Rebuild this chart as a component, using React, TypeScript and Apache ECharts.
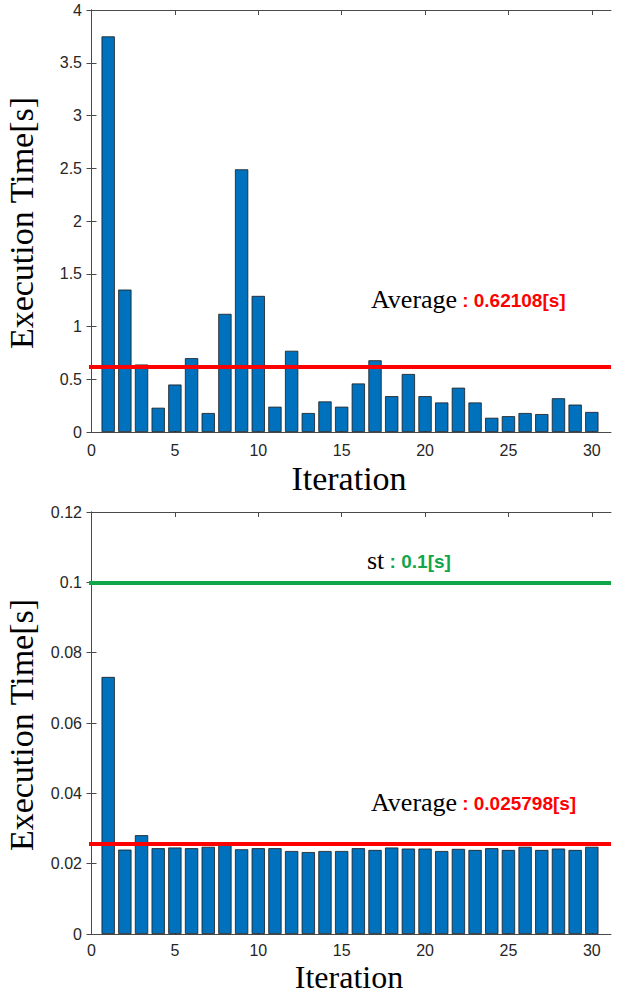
import React, { useEffect, useRef } from "react";
import * as echarts from "echarts";

const iterations = [1, 2, 3, 4, 5, 6, 7, 8, 9, 10, 11, 12, 13, 14, 15, 16, 17, 18, 19, 20, 21, 22, 23, 24, 25, 26, 27, 28, 29, 30];
const topTimes = [3.75, 1.35, 0.64, 0.23, 0.45, 0.70, 0.18, 1.12, 2.49, 1.29, 0.24, 0.77, 0.18, 0.29, 0.24, 0.46, 0.68, 0.34, 0.55, 0.34, 0.28, 0.42, 0.28, 0.135, 0.15, 0.18, 0.17, 0.32, 0.26, 0.19];
const bottomTimes = [0.0731, 0.0240, 0.0281, 0.0244, 0.0246, 0.0244, 0.0248, 0.0258, 0.0241, 0.0244, 0.0244, 0.0236, 0.0233, 0.0236, 0.0236, 0.0244, 0.0239, 0.0246, 0.0243, 0.0243, 0.0236, 0.0242, 0.0239, 0.0244, 0.0239, 0.0248, 0.0239, 0.0243, 0.0239, 0.0248];
const topAverage = 0.62108;
const bottomAverage = 0.025798;
const sampleTime = 0.1;
const xTicks = [0, 5, 10, 15, 20, 25, 30];

const BAR = "#0072BD";
const RED = "#ff0000";
const GREEN = "#12a64b";
const AXIS = "#4a4a4a";
const SERIF = "'Liberation Serif', 'DejaVu Serif', serif";
const SANS = "'Liberation Sans', Arial, sans-serif";

export default function App() {
  const ref = useRef<HTMLDivElement>(null);
  useEffect(() => {
    if (!ref.current) return;
    const chart = echarts.init(ref.current, undefined, { renderer: "svg" });
    const grids = [
      { left: 89, top: 10, width: 522, height: 422 },
      { left: 89, top: 512, width: 522, height: 422 },
    ];
    const mkX = (gi: number, pos: "bottom" | "top") => ({
      type: "value",
      gridIndex: gi,
      position: pos,
      min: -0.15,
      max: 31.15,
      axisLine: { show: true, onZero: false, lineStyle: { color: AXIS, width: 1 } },
      axisTick: { show: true, inside: true, length: 5, customValues: xTicks, lineStyle: { color: AXIS } },
      axisLabel: {
        show: pos === "bottom",
        customValues: xTicks,
        color: "#262626",
        fontFamily: SANS,
        fontSize: 16,
        margin: gi === 0 ? 10 : 8,
      },
      splitLine: { show: false },
    });
    const mkY = (gi: number, pos: "left" | "right", max: number, interval: number) => ({
      type: "value",
      gridIndex: gi,
      position: pos,
      min: 0,
      max,
      interval,
      axisLine: { show: true, lineStyle: { color: AXIS, width: 1 } },
      axisTick: { show: true, inside: true, length: 5, lineStyle: { color: AXIS } },
      axisLabel: {
        show: pos === "left",
        color: "#262626",
        fontFamily: SANS,
        fontSize: 16,
        margin: 7,
      },
      splitLine: { show: false },
    });
    const barSeries = (gi: number, values: number[], lines: any[]) => ({
      type: "bar",
      xAxisIndex: gi * 2,
      yAxisIndex: gi * 2,
      data: iterations.map((it, i) => [it, values[i]]),
      barWidth: 13.3,
      itemStyle: { color: BAR, borderColor: "#1a1a1a", borderWidth: 0.8 },
      markLine: {
        silent: true,
        symbol: "none",
        precision: 8,
        label: { show: false },
        data: lines,
      },
    });
    const avgText = (value: number, y: number) => ({
      type: "text",
      x: 371,
      y,
      style: {
        text: "{a|Average}{b|: " + value + "[s]}",
        verticalAlign: "middle",
        rich: {
          a: { font: `26px ${SERIF}`, fill: "#000" },
          b: { font: `bold 19px ${SANS}`, fill: RED, padding: [3, 0, 0, 5] },
        },
      },
    });
    chart.setOption({
      animation: false,
      backgroundColor: "#ffffff",
      grid: grids.map((g) => ({ ...g, show: false })),
      xAxis: [mkX(0, "bottom"), mkX(0, "top"), mkX(1, "bottom"), mkX(1, "top")],
      yAxis: [mkY(0, "left", 4, 0.5), mkY(0, "right", 4, 0.5), mkY(1, "left", 0.12, 0.02), mkY(1, "right", 0.12, 0.02)],
      series: [
        barSeries(0, topTimes, [{ yAxis: topAverage, lineStyle: { color: RED, width: 4, type: "solid" } }]),
        barSeries(1, bottomTimes, [
          { yAxis: bottomAverage, lineStyle: { color: RED, width: 4, type: "solid" } },
          { yAxis: sampleTime, lineStyle: { color: GREEN, width: 4, type: "solid" } },
        ]),
      ],
      graphic: [
        {
          type: "text",
          x: 21,
          y: 223,
          rotation: Math.PI / 2,
          style: { text: "Execution Time[s]", font: `34px ${SERIF}`, fill: "#000", align: "center", verticalAlign: "middle" },
        },
        {
          type: "text",
          x: 21,
          y: 725,
          rotation: Math.PI / 2,
          style: { text: "Execution Time[s]", font: `34px ${SERIF}`, fill: "#000", align: "center", verticalAlign: "middle" },
        },
        {
          type: "text",
          x: 349,
          y: 478,
          style: { text: "Iteration", font: `34px ${SERIF}`, fill: "#000", align: "center", verticalAlign: "middle" },
        },
        {
          type: "text",
          x: 349,
          y: 976.5,
          style: { text: "Iteration", font: `32px ${SERIF}`, fill: "#000", align: "center", verticalAlign: "middle" },
        },
        avgText(topAverage, 299),
        avgText(bottomAverage, 802),
        {
          type: "text",
          x: 367,
          y: 560,
          style: {
            text: "{a|st}{b| : " + sampleTime + "[s]}",
            verticalAlign: "middle",
            rich: {
              a: { font: `26px ${SERIF}`, fill: "#000" },
              b: { font: `bold 19px ${SANS}`, fill: GREEN, padding: [3, 0, 0, 0] },
            },
          },
        },
      ],
    });
    return () => chart.dispose();
  }, []);
  return <div ref={ref} style={{ position: "fixed", left: 0, top: 0, width: 617, height: 993 }} />;
}
